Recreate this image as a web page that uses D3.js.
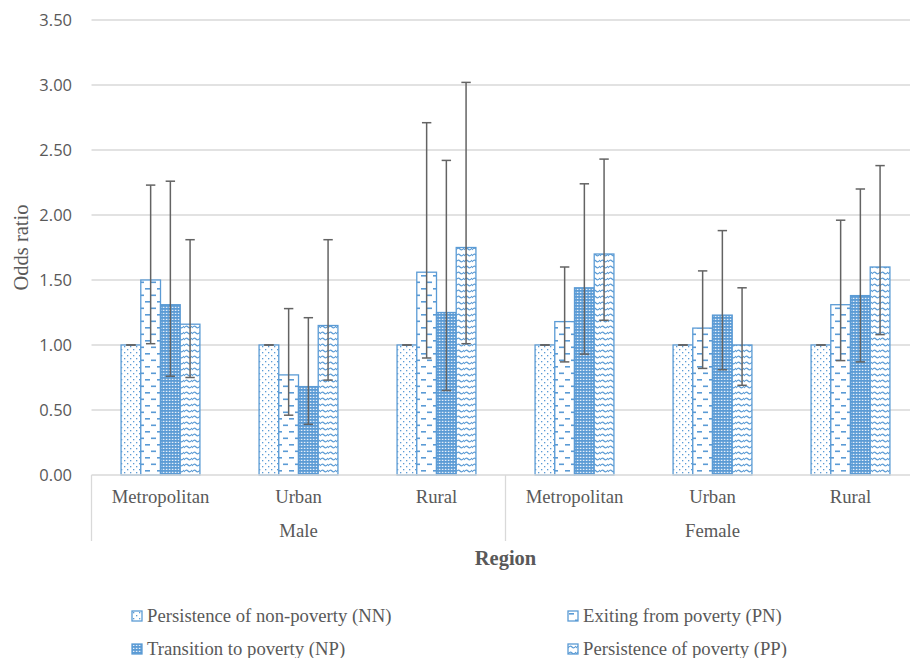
<!DOCTYPE html>
<html>
<head>
<meta charset="utf-8">
<script src="https://cdn.jsdelivr.net/npm/d3@7"></script>
<style>
  body { margin: 0; background: #fff; }
  #chart svg { display: block; }
</style>
</head>
<body>
<div id="chart"></div>
<script>
var width = 910;
var height = 658;

// categories
var regions = ["Metropolitan", "Urban", "Rural", "Metropolitan", "Urban", "Rural"];
var sexes = ["Male", "Female"];
var seriesNames = ["Persistence of non-poverty (NN)", "Exiting from poverty (PN)",
                   "Transition to poverty (NP)", "Persistence of poverty (PP)"];
var seriesKeys = ["NN", "PN", "NP", "PP"];

// odds ratios
var nnValues = [1.00, 1.00, 1.00, 1.00, 1.00, 1.00];
var pnValues = [1.50, 0.77, 1.56, 1.18, 1.13, 1.31];
var npValues = [1.31, 0.68, 1.25, 1.44, 1.23, 1.38];
var ppValues = [1.16, 1.15, 1.75, 1.70, 1.00, 1.60];

// confidence intervals
var nnLow = [1.00, 1.00, 1.00, 1.00, 1.00, 1.00];
var nnHigh = [1.00, 1.00, 1.00, 1.00, 1.00, 1.00];
var pnLow = [1.01, 0.46, 0.90, 0.87, 0.82, 0.88];
var pnHigh = [2.23, 1.28, 2.71, 1.60, 1.57, 1.96];
var npLow = [0.76, 0.39, 0.65, 0.93, 0.81, 0.87];
var npHigh = [2.26, 1.21, 2.42, 2.24, 1.88, 2.20];
var ppLow = [0.75, 0.73, 1.01, 1.19, 0.69, 1.08];
var ppHigh = [1.81, 1.81, 3.02, 2.43, 1.44, 2.38];

var yTicks = [0, 0.5, 1, 1.5, 2, 2.5, 3, 3.5];

var blue = "#5b9bd5";
var grey = "#595959";
var serif = "'Liberation Serif', 'Times New Roman', serif";

var allValues = [nnValues, pnValues, npValues, ppValues];
var allLow = [nnLow, pnLow, npLow, ppLow];
var allHigh = [nnHigh, pnHigh, npHigh, ppHigh];

// build rows for drawing
var rows = [];
for (var i = 0; i < regions.length; ++i) {
  for (var s = 0; s < seriesKeys.length; ++s) {
    rows.push({
      group: i,
      key: seriesKeys[s],
      value: allValues[s][i],
      low: allLow[s][i],
      high: allHigh[s][i]
    });
  }
}

var svg = d3.select("#chart").append("svg")
  .attr("width", width)
  .attr("height", height);

// fill patterns
var defs = svg.append("defs");

var pNN = defs.append("pattern").attr("id", "pat-NN")
  .attr("patternUnits", "userSpaceOnUse").attr("width", 6).attr("height", 6);
pNN.append("rect").attr("width", 6).attr("height", 6).attr("fill", "#fff");
pNN.append("rect").attr("x", 1).attr("y", 1).attr("width", 1.3).attr("height", 1.3).attr("fill", blue);
pNN.append("rect").attr("x", 4).attr("y", 4).attr("width", 1.3).attr("height", 1.3).attr("fill", blue);

var pPN = defs.append("pattern").attr("id", "pat-PN")
  .attr("patternUnits", "userSpaceOnUse").attr("width", 12).attr("height", 13);
pPN.append("rect").attr("width", 12).attr("height", 13).attr("fill", "#fff");
pPN.append("rect").attr("x", 1).attr("y", 2).attr("width", 5).attr("height", 1.6).attr("fill", blue);
pPN.append("rect").attr("x", 7).attr("y", 8.5).attr("width", 5).attr("height", 1.6).attr("fill", blue);

var pNP = defs.append("pattern").attr("id", "pat-NP")
  .attr("patternUnits", "userSpaceOnUse").attr("width", 3).attr("height", 3);
pNP.append("rect").attr("width", 3).attr("height", 3).attr("fill", blue);
pNP.append("rect").attr("x", 0.8).attr("y", 0.8).attr("width", 1.6).attr("height", 1.2).attr("fill", "#e6eff9");

var pPP = defs.append("pattern").attr("id", "pat-PP")
  .attr("patternUnits", "userSpaceOnUse").attr("width", 8).attr("height", 6);
pPP.append("rect").attr("width", 8).attr("height", 6).attr("fill", "#fff");
pPP.append("path").attr("d", "M0,4 Q2,1 4,3 T8,2")
  .attr("fill", "none").attr("stroke", blue).attr("stroke-width", 1.2);

// scales
var x0 = d3.scaleBand()
  .domain(d3.range(regions.length))
  .range([91.5, 919.5]);

var barW = x0.bandwidth() / 7;
var x1 = d3.scaleBand()
  .domain(seriesKeys)
  .range([1.5 * barW, 5.5 * barW]);

var y = d3.scaleLinear().domain([0, 3.5]).range([475, 20]);

// gridlines
svg.append("g")
  .selectAll("line")
  .data(yTicks.filter(function(d) { return d > 0; }))
  .enter().append("line")
  .attr("x1", 91.5).attr("x2", 919.5)
  .attr("y1", function(d) { return y(d); })
  .attr("y2", function(d) { return y(d); })
  .attr("stroke", "#d9d9d9").attr("stroke-width", 1.3);

// y axis labels
var yAxis = d3.axisLeft(y).tickValues(yTicks)
  .tickFormat(d3.format(".2f")).tickSize(0).tickPadding(20);
var yg = svg.append("g").attr("transform", "translate(92,0)").call(yAxis);
yg.select(".domain").remove();
yg.selectAll("text")
  .attr("fill", grey)
  .style("font-family", "'Segoe UI', 'Open Sans', sans-serif")
  .style("font-size", "16.5px");

// bars
svg.append("g")
  .selectAll("rect")
  .data(rows)
  .enter().append("rect")
  .attr("x", function(d) { return x0(d.group) + x1(d.key); })
  .attr("y", function(d) { return y(d.value); })
  .attr("width", x1.bandwidth())
  .attr("height", function(d) { return y(0) - y(d.value); })
  .attr("fill", function(d) { return "url(#pat-" + d.key + ")"; })
  .attr("stroke", blue)
  .attr("stroke-width", 1.3);

// error bars
var errColor = "#636363";
var err = svg.append("g")
  .selectAll("g")
  .data(rows)
  .enter().append("g")
  .attr("transform", function(d) {
    return "translate(" + (x0(d.group) + x1(d.key) + x1.bandwidth() / 2) + ",0)";
  });
err.append("line")
  .attr("y1", function(d) { return y(d.low); })
  .attr("y2", function(d) { return y(d.high); })
  .attr("stroke", errColor).attr("stroke-width", 1.5);
err.append("line")
  .attr("x1", -4.7).attr("x2", 4.7)
  .attr("y1", function(d) { return y(d.high); })
  .attr("y2", function(d) { return y(d.high); })
  .attr("stroke", errColor).attr("stroke-width", 1.5);
err.append("line")
  .attr("x1", -4.7).attr("x2", 4.7)
  .attr("y1", function(d) { return y(d.low); })
  .attr("y2", function(d) { return y(d.low); })
  .attr("stroke", errColor).attr("stroke-width", 1.5);

// category axis
var axisG = svg.append("g");
axisG.append("line")
  .attr("x1", 91.5).attr("x2", 919.5)
  .attr("y1", y(0)).attr("y2", y(0))
  .attr("stroke", "#d9d9d9").attr("stroke-width", 1.3);

// separators between sex groups
var sepX = [0, 3, 6].map(function(k) { return 91.5 + k * x0.bandwidth(); });
axisG.selectAll("line.sep")
  .data(sepX)
  .enter().append("line")
  .attr("class", "sep")
  .attr("x1", function(d) { return d; }).attr("x2", function(d) { return d; })
  .attr("y1", y(0)).attr("y2", 541)
  .attr("stroke", "#d9d9d9").attr("stroke-width", 1.3);

axisG.selectAll("text.region")
  .data(regions)
  .enter().append("text")
  .attr("class", "region")
  .attr("x", function(d, i) { return x0(i) + x0.bandwidth() / 2; })
  .attr("y", 503)
  .attr("text-anchor", "middle")
  .attr("fill", grey)
  .style("font-family", serif)
  .style("font-size", "18.7px")
  .text(function(d) { return d; });

axisG.selectAll("text.sex")
  .data(sexes)
  .enter().append("text")
  .attr("class", "sex")
  .attr("x", function(d, i) { return x0(i * 3 + 1) + x0.bandwidth() / 2; })
  .attr("y", 537)
  .attr("text-anchor", "middle")
  .attr("fill", grey)
  .style("font-family", serif)
  .style("font-size", "18.7px")
  .text(function(d) { return d; });

// axis titles
svg.append("text")
  .attr("x", 505.5).attr("y", 565)
  .attr("text-anchor", "middle")
  .attr("fill", grey)
  .style("font-family", serif)
  .style("font-size", "20.5px")
  .style("font-weight", "bold")
  .text("Region");

svg.append("text")
  .attr("transform", "translate(28,247.5) rotate(-90)")
  .attr("text-anchor", "middle")
  .attr("fill", grey)
  .style("font-family", serif)
  .style("font-size", "20.5px")
  .text("Odds ratio");

// legend
var legendPos = [[132, 611], [568, 611], [132, 644], [568, 644]];
var legend = svg.append("g")
  .selectAll("g")
  .data(seriesKeys)
  .enter().append("g")
  .attr("transform", function(d, i) {
    return "translate(" + legendPos[i][0] + "," + legendPos[i][1] + ")";
  });
legend.append("rect")
  .attr("width", 10).attr("height", 10)
  .attr("fill", function(d) { return "url(#pat-" + d + ")"; })
  .attr("stroke", blue).attr("stroke-width", 1.3);
legend.append("text")
  .attr("x", 15).attr("y", 10.5)
  .attr("fill", grey)
  .style("font-family", serif)
  .style("font-size", "18.7px")
  .text(function(d, i) { return seriesNames[i]; });
</script>
</body>
</html>
